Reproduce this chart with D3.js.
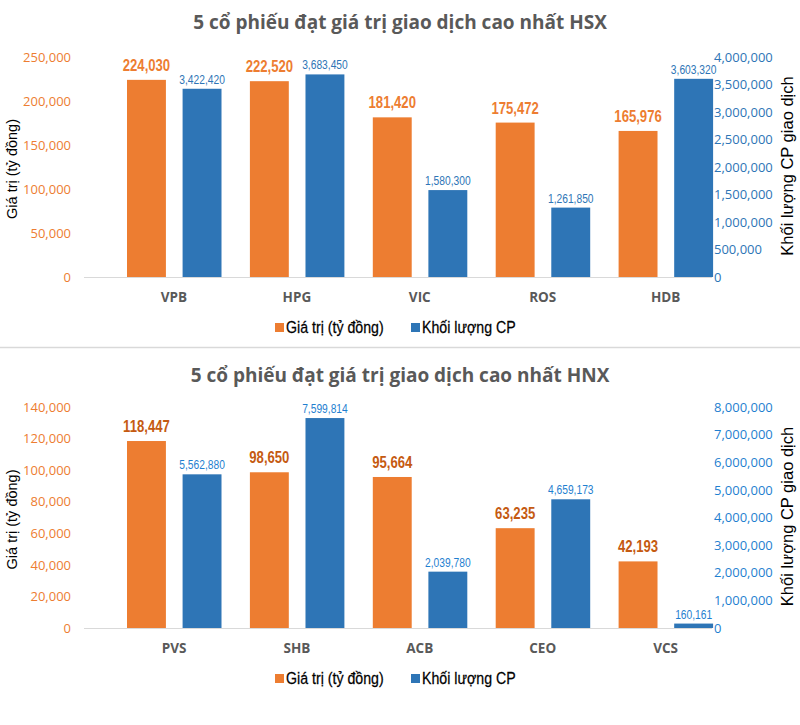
<!DOCTYPE html>
<html><head><meta charset="utf-8">
<script src="https://cdn.jsdelivr.net/npm/d3@7"></script>
<style>
body{margin:0;background:#fff;}
svg{display:block;}
.tick line,.domain{display:none;}
</style></head>
<body><svg id="c" width="800" height="725"></svg>
<script>
// ---- data ----
const hsxTitle = "5 cổ phiếu đạt giá trị giao dịch cao nhất HSX";
const hsxCategories = ["VPB","HPG","VIC","ROS","HDB"];
const hsxValue = [224030,222520,181420,175472,165976];
const hsxVolume = [3422420,3683450,1580300,1261850,3603320];
const hsxValueTicks = [0,50000,100000,150000,200000,250000];
const hsxVolumeTicks = [0,500000,1000000,1500000,2000000,2500000,3000000,3500000,4000000];

const hnxTitle = "5 cổ phiếu đạt giá trị giao dịch cao nhất HNX";
const hnxCategories = ["PVS","SHB","ACB","CEO","VCS"];
const hnxValue = [118447,98650,95664,63235,42193];
const hnxVolume = [5562880,7599814,2039780,4659173,160161];
const hnxValueTicks = [0,20000,40000,60000,80000,100000,120000,140000];
const hnxVolumeTicks = [0,1000000,2000000,3000000,4000000,5000000,6000000,7000000,8000000];

const seriesNames = ["Giá trị (tỷ đồng)","Khối lượng CP"];
const leftTitle = "Giá trị (tỷ đồng)";
const rightTitle = "Khối lượng CP giao dịch";

const ORANGE = "#ED7D31", BLUE = "#2E75B6";
const svg = d3.select("#c");
const fmt = d3.format(",");
const LIB = "'Liberation Sans',Arial,sans-serif";
const NARROW = 0.82;

function drawChart(cfg){
  const g = svg.append("g");
  const y0 = cfg.base, yTop = cfg.top;
  g.append("text").attr("x",400).attr("y",cfg.titleY).attr("text-anchor","middle")
    .attr("font-family","'Open Sans',sans-serif").attr("font-weight","bold")
    .attr("font-size",19).attr("fill","#595959").text(cfg.title);

  const x = d3.scaleBand().domain(cfg.cats).range([112.5,727]);
  const sub = d3.scaleBand().domain(["v","q"]).range([14.5,109]).paddingInner(0.3);
  const yL = d3.scaleLinear().domain([0, d3.max(cfg.vTicks)]).range([y0, yTop]);
  const yR = d3.scaleLinear().domain([0, d3.max(cfg.qTicks)]).range([y0, yTop]);

  const aL = g.append("g").attr("transform","translate(77,0)")
    .call(d3.axisLeft(yL).tickValues(cfg.vTicks).tickFormat(fmt).tickSize(0).tickPadding(6));
  aL.selectAll("text").attr("font-family","'Open Sans',sans-serif").attr("font-size",13).attr("fill",ORANGE);
  const aR = g.append("g").attr("transform","translate(708,0)")
    .call(d3.axisRight(yR).tickValues(cfg.qTicks).tickFormat(fmt).tickSize(0).tickPadding(6));
  aR.selectAll("text").attr("font-family","'Open Sans',sans-serif").attr("font-size",13).attr("fill",cfg.rightColor);

  g.append("line").attr("x1",84).attr("x2",712).attr("y1",y0+0.5).attr("y2",y0+0.5)
    .attr("stroke","#D9D9D9").attr("stroke-width",1);

  const data = cfg.cats.map((c,i)=>({c, v:cfg.vals[i], q:cfg.vols[i]}));
  g.selectAll(".bv").data(data).join("rect")
    .attr("x",d=>x(d.c)+sub("v")).attr("width",sub.bandwidth())
    .attr("y",d=>yL(d.v)).attr("height",d=>y0-yL(d.v)).attr("fill",ORANGE);
  g.selectAll(".bq").data(data).join("rect")
    .attr("x",d=>x(d.c)+sub("q")).attr("width",sub.bandwidth())
    .attr("y",d=>yR(d.q)).attr("height",d=>y0-yR(d.q)).attr("fill",BLUE);

  g.selectAll(".lv").data(data).join("text")
    .attr("transform",d=>`translate(${x(d.c)+sub("v")+sub.bandwidth()/2},${yL(d.v)-9}) scale(${NARROW},1)`)
    .attr("text-anchor","middle").attr("font-family",LIB).attr("font-weight","bold")
    .attr("font-size",16).attr("fill",cfg.valLabelColor).text(d=>fmt(d.v));
  g.selectAll(".lq").data(data).join("text")
    .attr("transform",d=>`translate(${x(d.c)+sub("q")+sub.bandwidth()/2},${yR(d.q)-5}) scale(${NARROW},1)`)
    .attr("text-anchor","middle").attr("font-family",LIB)
    .attr("font-size",12.5).attr("fill",cfg.volLabelColor).text(d=>fmt(d.q));

  g.selectAll(".cat").data(cfg.cats).join("text")
    .attr("x",d=>x(d)+61.5).attr("y",y0+25).attr("text-anchor","middle")
    .attr("font-family","'Open Sans',sans-serif").attr("font-weight","bold")
    .attr("font-size",13.5).attr("fill","#595959").text(d=>d);

  g.append("text").attr("transform",`translate(17,${(y0+yTop)/2+2}) rotate(-90)`)
    .attr("text-anchor","middle").attr("font-family",LIB)
    .attr("font-size",14.5).attr("fill","#000").text(leftTitle);
  g.append("text").attr("transform",`translate(793,${(y0+yTop)/2-1}) rotate(-90)`)
    .attr("text-anchor","middle").attr("font-family",LIB)
    .attr("font-size",16.5).attr("fill","#000").text(rightTitle);

  const lg = g.append("g").attr("transform",`translate(0,${y0+56})`);
  const items = [{n:seriesNames[0],c:ORANGE,x:275},{n:seriesNames[1],c:BLUE,x:411}];
  items.forEach(it=>{
    lg.append("rect").attr("x",it.x).attr("y",-10).attr("width",9).attr("height",9).attr("fill",it.c);
    lg.append("text").attr("transform",`translate(${it.x+11},0) scale(0.86,1)`)
      .attr("font-family",LIB).attr("font-size",16.5).attr("fill","#000")
      .attr("stroke","#000").attr("stroke-width",0.25).text(it.n);
  });
}

drawChart({title:hsxTitle,titleY:29,cats:hsxCategories,vals:hsxValue,vols:hsxVolume,
  vTicks:hsxValueTicks,qTicks:hsxVolumeTicks,base:277,top:57,
  rightColor:"#2E75B6",valLabelColor:"#ED7D31",volLabelColor:"#2E75B6"});

svg.append("line").attr("x1",0).attr("x2",800).attr("y1",347.5).attr("y2",347.5)
  .attr("stroke","#D9D9D9").attr("stroke-width",1.5);

drawChart({title:hnxTitle,titleY:382,cats:hnxCategories,vals:hnxValue,vols:hnxVolume,
  vTicks:hnxValueTicks,qTicks:hnxVolumeTicks,base:628,top:407,
  rightColor:"#1F7FD0",valLabelColor:"#C55A11",volLabelColor:"#1F7FD0"});
</script></body></html>
